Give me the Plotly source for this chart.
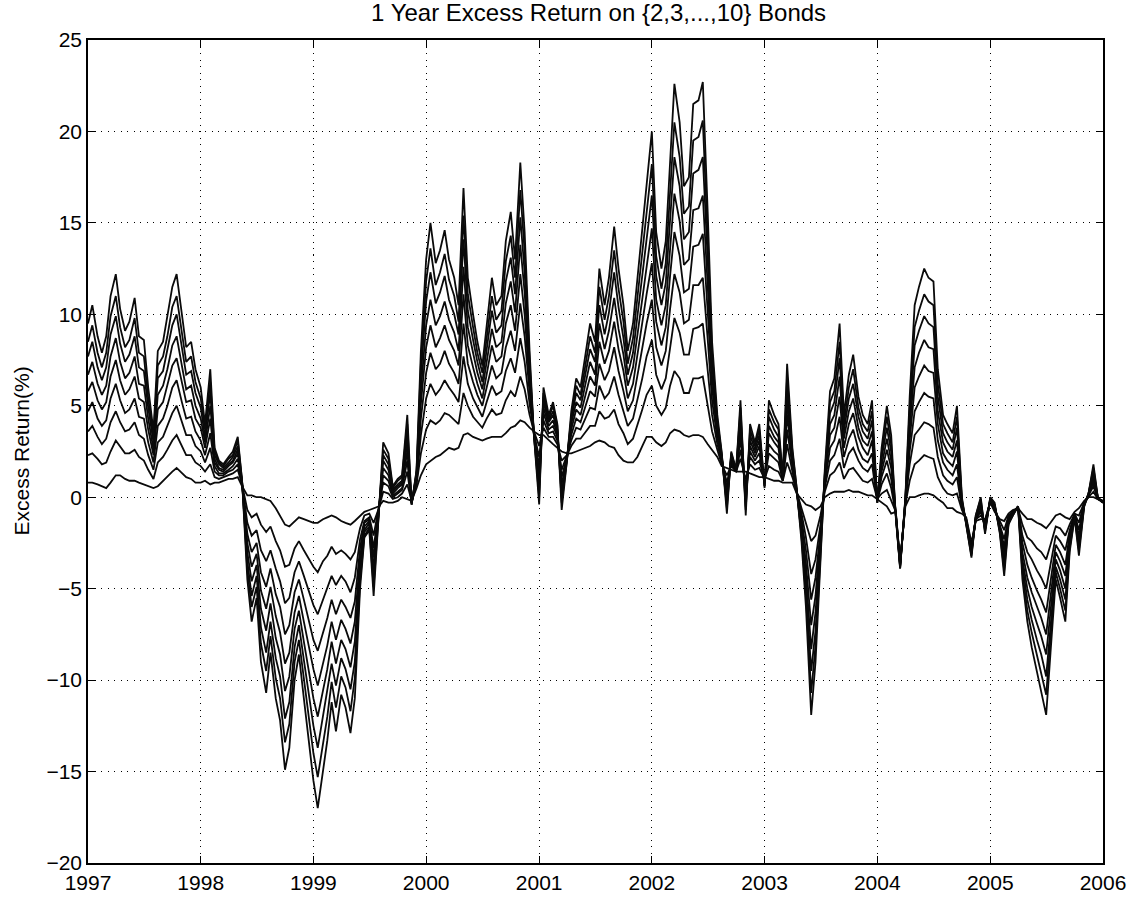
import pandas as pd
import plotly.graph_objects as go

# Semi-monthly observation dates, Jan 1997 .. Jan 2006
dates = pd.date_range("1997-01-01", "2006-01-01", freq="SMS")

# 1-year excess returns (%) on n-year bonds, one row per calendar year
y2 = [
    .8, .8, .7, .6, .5, .8, 1.2, 1.2, 1.0, .9, .9, .8, .7, .6, .5, .6, .9, 1.1, 1.4, 1.6, 1.3, 1.1, 1.0, .8,
    .8, .9, .7, .8, .8, .9, 1.0, 1.0, 1.1, .6, .1, .1, 0, 0, -.1, -.2, -.6, -1.0, -1.5, -1.6, -1.3, -1.1, -1.2, -1.3,
    -1.4, -1.4, -1.2, -1.1, -1.0, -1.1, -1.3, -1.4, -1.5, -1.3, -1.0, -.8, -.7, -.6, -.5, -.2, -.3, -.3, -.2, 0, -.1, -.2, .5, 1.2,
    1.8, 2.0, 2.2, 2.3, 2.5, 2.7, 2.6, 2.7, 3.4, 3.5, 3.3, 3.2, 3.1, 3.2, 3.3, 3.3, 3.3, 3.5, 3.8, 3.9, 4.2, 4.1, 3.8, 3.6,
    3.4, 3.4, 3.1, 2.9, 2.7, 2.5, 2.4, 2.4, 2.5, 2.6, 2.7, 2.8, 3.0, 3.1, 3.0, 2.8, 2.7, 2.3, 2.0, 1.9, 1.9, 2.2, 2.8, 3.3,
    3.3, 3.0, 2.8, 3.0, 3.5, 3.7, 3.6, 3.4, 3.3, 3.4, 3.4, 3.3, 2.9, 2.6, 2.2, 1.7, 1.6, 1.5, 1.4, 1.4, 1.4, 1.3, 1.2, 1.1,
    1.1, 1.0, .9, .9, .8, .8, .8, .2, -.1, -.4, -.5, -.7, -.5, 0, .2, .3, .3, .3, .4, .3, .3, .2, .1, .1,
    -.1, -.3, -.5, -.9, -.8, -3.5, -.5, 0, 0, .1, .2, .2, .1, -.1, -.3, -.6, -.6, -.8, -.9, -1.1, -2.5, -1.3, -1.2, -1.2,
    -.3, -.8, -1.2, -1.3, -.9, -.7, -.6, -.9, -1.2, -1.2, -1.4, -1.5, -1.7, -1.4, -1.0, -.9, -1.1, -1.2, -.8, -.6, -.2, 0, 0, -.1,
    -.2,
]
y3 = [
    2.3, 2.4, 2.1, 1.8, 1.9, 2.5, 3.1, 2.8, 2.4, 2.4, 2.6, 2.2, 2.0, 1.5, 1.0, 1.9, 2.2, 2.6, 3.1, 3.4, 2.8, 2.3, 2.3, 1.9,
    1.7, 1.4, 1.8, 1.1, 1.0, 1.1, 1.2, 1.3, 1.5, .7, -.7, -1.1, -.9, -1.5, -1.9, -1.6, -2.4, -2.9, -3.8, -3.7, -2.8, -2.4, -2.9, -3.3,
    -3.8, -4.1, -3.5, -3.2, -2.7, -3.1, -2.9, -3.1, -3.4, -3.0, -1.7, -1.0, -.9, -1.4, -.6, .3, .2, -.1, 0, .2, .7, -.2, .7, 2.4,
    3.7, 4.2, 4.0, 4.2, 4.6, 4.5, 4.2, 4.0, 5.7, 5.0, 4.4, 4.1, 3.8, 4.3, 4.8, 4.5, 4.6, 5.3, 5.8, 5.5, 6.6, 5.9, 4.5, 3.6,
    2.8, 3.8, 3.3, 3.3, 2.9, 2.0, 2.3, 2.8, 3.2, 3.2, 3.6, 3.9, 3.9, 4.7, 4.3, 4.4, 4.8, 4.0, 3.5, 2.9, 3.2, 3.9, 4.8, 5.6,
    6.1, 5.0, 4.5, 4.9, 6.1, 6.9, 6.5, 5.7, 5.7, 6.5, 6.5, 6.6, 5.0, 3.6, 2.6, 1.8, 1.2, 1.7, 1.4, 2.1, 1.0, 1.8, 1.5, 1.6,
    1.0, 1.7, 1.5, 1.4, .9, 1.9, 1.1, .3, -.5, -1.4, -2.4, -2.1, -1.0, .3, 1.2, 1.4, 1.9, 1.0, 1.5, 1.6, 1.2, .9, .8, 1.0,
    -.1, .2, .4, -.2, -.8, -3.6, -.4, .9, 1.8, 2.0, 2.3, 2.2, 2.1, 1.1, .5, .2, .1, .2, -.7, -1.2, -2.6, -1.2, -1.0, -1.3,
    -.2, -.7, -1.3, -1.8, -1.0, -.8, -.6, -1.5, -2.2, -2.4, -2.8, -3.0, -3.4, -2.6, -1.6, -1.7, -2.1, -1.5, -.9, -1.0, -.3, 0, .3, -.1,
    -.2,
]
y4 = [
    3.6, 3.9, 3.3, 2.9, 3.2, 4.1, 4.7, 4.1, 3.6, 3.7, 4.1, 3.4, 3.2, 2.3, 1.5, 3.0, 3.3, 3.9, 4.6, 5.0, 4.1, 3.4, 3.4, 2.8,
    2.5, 1.9, 2.7, 1.4, 1.2, 1.2, 1.4, 1.5, 1.8, .7, -1.4, -2.1, -1.8, -2.9, -3.5, -2.9, -3.9, -4.6, -5.8, -5.5, -4.1, -3.5, -4.3, -5.0,
    -5.9, -6.4, -5.6, -5.0, -4.3, -4.8, -4.3, -4.6, -5.2, -4.4, -2.3, -1.3, -1.1, -2.1, -.6, .8, .6, 0, .2, .4, 1.4, -.3, .8, 3.4,
    5.4, 6.2, 5.6, 5.9, 6.4, 6.0, 5.6, 5.2, 7.7, 6.2, 5.4, 4.9, 4.4, 5.2, 6.1, 5.6, 5.8, 6.9, 7.6, 6.8, 8.7, 7.4, 5.1, 3.5,
    2.2, 4.2, 3.5, 3.6, 3.1, 1.5, 2.3, 3.1, 3.8, 3.7, 4.4, 4.9, 4.8, 6.1, 5.4, 5.7, 6.6, 5.6, 4.7, 3.9, 4.3, 5.3, 6.5, 7.7,
    8.6, 6.7, 5.9, 6.5, 8.3, 9.8, 9.0, 7.8, 7.8, 9.2, 9.3, 9.5, 6.9, 4.5, 2.9, 2.0, .8, 1.8, 1.4, 2.6, .6, 2.2, 1.8, 2.0,
    .9, 2.4, 2.1, 1.9, .9, 2.9, 1.4, .3, -.9, -2.2, -4.2, -3.4, -1.5, .5, 2.0, 2.3, 3.2, 1.6, 2.4, 2.7, 2.0, 1.6, 1.4, 1.8,
    -.2, .7, 1.3, .5, -.9, -3.6, -.3, 1.8, 3.4, 3.7, 4.1, 4.0, 3.8, 2.2, 1.2, .9, .7, 1.1, -.6, -1.2, -2.8, -1.2, -.8, -1.5,
    -.2, -.6, -1.5, -2.3, -1.1, -.8, -.6, -2.1, -3.0, -3.4, -4.0, -4.4, -5.0, -3.7, -2.1, -2.4, -2.9, -1.8, -.9, -1.4, -.3, .1, .6, -.1,
    -.2,
]
y5 = [
    4.7, 5.2, 4.3, 3.9, 4.2, 5.4, 6.2, 5.3, 4.6, 4.8, 5.4, 4.4, 4.3, 3.0, 1.9, 3.9, 4.3, 5.0, 6.0, 6.4, 5.2, 4.3, 4.4, 3.6,
    3.1, 2.3, 3.5, 1.7, 1.3, 1.3, 1.5, 1.7, 2.1, .7, -2.0, -3.0, -2.5, -4.1, -4.9, -3.9, -5.3, -6.0, -7.5, -7.0, -5.2, -4.5, -5.6, -6.6,
    -7.8, -8.4, -7.4, -6.6, -5.6, -6.4, -5.6, -6.0, -6.6, -5.7, -2.8, -1.4, -1.2, -2.8, -.6, 1.2, .9, .1, .3, .5, 2.0, -.3, 1.0, 4.3,
    6.8, 7.9, 7.0, 7.3, 8.0, 7.3, 6.8, 6.2, 9.5, 7.3, 6.3, 5.6, 5.0, 6.0, 7.2, 6.5, 6.8, 8.2, 9.1, 8.0, 10.6, 8.8, 5.7, 3.5,
    1.7, 4.6, 3.7, 3.9, 3.3, 1.1, 2.2, 3.4, 4.3, 4.1, 5.1, 5.8, 5.5, 7.3, 6.4, 6.9, 8.2, 6.9, 5.8, 4.7, 5.3, 6.6, 8.1, 9.5,
    10.8, 8.2, 7.2, 8.0, 10.3, 12.2, 11.2, 9.5, 9.7, 11.6, 11.6, 12.0, 8.6, 5.3, 3.2, 2.1, .5, 2.0, 1.4, 3.2, .3, 2.5, 2.0, 2.4,
    .8, 2.9, 2.5, 2.3, .9, 3.7, 1.7, .3, -1.2, -2.9, -5.6, -4.4, -1.9, .7, 2.7, 3.1, 4.4, 2.2, 3.2, 3.7, 2.6, 2.1, 1.9, 2.4,
    -.2, 1.1, 2.0, 1.0, -.9, -3.7, -.3, 2.5, 4.7, 5.2, 5.7, 5.5, 5.4, 3.1, 1.9, 1.5, 1.2, 1.8, -.5, -1.3, -2.9, -1.2, -.7, -1.6,
    -.2, -.6, -1.6, -2.7, -1.2, -.8, -.6, -2.5, -3.7, -4.4, -5.1, -5.6, -6.3, -4.6, -2.6, -3.0, -3.7, -2.0, -.9, -1.8, -.3, .1, .8, -.1,
    -.2,
]
y6 = [
    5.8, 6.3, 5.3, 4.8, 5.2, 6.6, 7.5, 6.4, 5.6, 5.9, 6.6, 5.4, 5.2, 3.7, 2.3, 4.8, 5.2, 6.1, 7.2, 7.6, 6.3, 5.2, 5.3, 4.3,
    3.8, 2.7, 4.3, 1.9, 1.5, 1.4, 1.7, 1.9, 2.4, .8, -2.5, -3.8, -3.1, -5.1, -6.1, -4.9, -6.5, -7.4, -9.1, -8.5, -6.3, -5.4, -6.8, -8.0,
    -9.4, -10.3, -9.0, -8.1, -6.8, -7.8, -6.7, -7.2, -8.0, -6.8, -3.3, -1.6, -1.3, -3.3, -.7, 1.6, 1.2, .2, .5, .7, 2.5, -.3, 1.1, 5.1,
    8.2, 9.4, 8.2, 8.7, 9.4, 8.6, 8.0, 7.2, 11.1, 8.3, 7.1, 6.2, 5.4, 6.8, 8.3, 7.4, 7.7, 9.5, 10.5, 9.1, 12.2, 10.0, 6.2, 3.5,
    1.2, 4.9, 3.9, 4.2, 3.4, .7, 2.2, 3.7, 4.8, 4.5, 5.7, 6.6, 6.1, 8.5, 7.3, 8.0, 9.6, 8.1, 6.9, 5.4, 6.2, 7.8, 9.5, 11.1,
    12.8, 9.6, 8.3, 9.3, 12.1, 14.5, 13.2, 11.2, 11.4, 13.7, 13.8, 14.4, 10.1, 6.0, 3.5, 2.2, .2, 2.1, 1.5, 3.6, 0, 2.8, 2.2, 2.8,
    .8, 3.5, 3.0, 2.7, 1.0, 4.5, 1.9, .4, -1.5, -3.6, -7.0, -5.4, -2.2, .9, 3.4, 3.8, 5.5, 2.7, 4.0, 4.6, 3.3, 2.7, 2.3, 3.1,
    -.2, 1.4, 2.6, 1.6, -.9, -3.7, -.2, 3.1, 6.0, 6.6, 7.2, 6.9, 6.8, 4.0, 2.4, 2.0, 1.7, 2.5, -.4, -1.3, -3.0, -1.1, -.5, -1.7,
    -.1, -.5, -1.7, -3.0, -1.2, -.9, -.5, -3.0, -4.4, -5.2, -6.0, -6.6, -7.5, -5.5, -3.0, -3.5, -4.3, -2.2, -1.0, -2.1, -.4, .1, 1.0, -.1,
    -.3,
]
y7 = [
    6.7, 7.4, 6.2, 5.6, 6.1, 7.7, 8.7, 7.4, 6.5, 6.8, 7.7, 6.2, 6.1, 4.3, 2.6, 5.6, 6.1, 7.0, 8.3, 8.8, 7.2, 5.9, 6.1, 5.0,
    4.3, 3.0, 5.0, 2.1, 1.6, 1.5, 1.8, 2.0, 2.6, .8, -3.0, -4.6, -3.7, -6.1, -7.3, -5.8, -7.7, -8.6, -10.6, -9.8, -7.2, -6.2, -7.9, -9.3,
    -11.0, -12.0, -10.5, -9.4, -7.9, -9.1, -7.8, -8.3, -9.3, -7.9, -3.7, -1.8, -1.4, -3.9, -.7, 2.0, 1.5, .3, .6, .8, 3.0, -.3, 1.2, 5.8,
    9.4, 10.8, 9.4, 9.9, 10.7, 9.7, 9.0, 8.0, 12.6, 9.3, 7.9, 6.8, 5.9, 7.5, 9.2, 8.2, 8.5, 10.6, 11.8, 10.1, 13.8, 11.2, 6.7, 3.5,
    .8, 5.2, 4.1, 4.5, 3.6, .3, 2.1, 4.0, 5.2, 4.9, 6.3, 7.4, 6.7, 9.5, 8.1, 9.1, 10.9, 9.2, 7.8, 6.1, 7.1, 8.9, 10.8, 12.6,
    14.7, 10.8, 9.4, 10.5, 13.7, 16.6, 15.1, 12.7, 13.0, 15.7, 15.8, 16.5, 11.5, 6.6, 3.8, 2.2, -.1, 2.2, 1.5, 4.1, -.2, 3.1, 2.4, 3.1,
    .7, 3.9, 3.3, 3.0, 1.0, 5.2, 2.1, .4, -1.7, -4.2, -8.3, -6.3, -2.5, 1.0, 4.0, 4.5, 6.6, 3.2, 4.7, 5.4, 3.8, 3.1, 2.8, 3.6,
    -.2, 1.7, 3.2, 2.0, -1.0, -3.8, -.2, 3.7, 7.1, 7.9, 8.6, 8.2, 8.1, 4.7, 3.0, 2.5, 2.2, 3.1, -.3, -1.4, -3.0, -1.1, -.4, -1.7,
    -.1, -.5, -1.7, -3.3, -1.3, -.9, -.5, -3.4, -5.0, -6.0, -6.9, -7.6, -8.6, -6.2, -3.4, -4.0, -5.0, -2.4, -1.0, -2.4, -.4, .1, 1.2, 0,
    -.3,
]
y8 = [
    7.7, 8.5, 7.1, 6.4, 7.1, 8.9, 9.9, 8.4, 7.4, 7.8, 8.8, 7.1, 6.9, 4.9, 3.0, 6.5, 6.9, 8.0, 9.4, 10.0, 8.2, 6.7, 6.9, 5.7,
    4.9, 3.3, 5.7, 2.3, 1.8, 1.6, 1.9, 2.2, 2.8, .8, -3.5, -5.4, -4.3, -7.1, -8.5, -6.8, -8.8, -9.8, -12.1, -11.2, -8.2, -7.0, -8.9, -10.5,
    -12.5, -13.7, -12.0, -10.7, -9.1, -10.3, -8.8, -9.4, -10.5, -9.0, -4.2, -1.9, -1.6, -4.4, -.7, 2.3, 1.8, .4, .7, .9, 3.5, -.4, 1.3, 6.6,
    10.7, 12.3, 10.6, 11.2, 12.1, 10.8, 10.0, 8.9, 14.1, 10.2, 8.6, 7.4, 6.3, 8.2, 10.2, 9.0, 9.4, 11.8, 13.1, 11.1, 15.3, 12.3, 7.1, 3.4,
    .4, 5.5, 4.2, 4.7, 3.7, 0, 2.1, 4.2, 5.7, 5.3, 6.9, 8.1, 7.4, 10.5, 8.9, 10.1, 12.3, 10.4, 8.7, 6.7, 7.9, 9.9, 12.0, 14.1,
    16.5, 12.1, 10.5, 11.7, 15.4, 18.6, 17.0, 14.1, 14.5, 17.7, 17.9, 18.6, 12.9, 7.3, 4.0, 2.3, -.4, 2.3, 1.5, 4.5, -.5, 3.4, 2.6, 3.4,
    .6, 4.4, 3.7, 3.3, 1.0, 5.9, 2.3, .4, -2.0, -4.8, -9.5, -7.3, -2.9, 1.2, 4.6, 5.2, 7.6, 3.6, 5.4, 6.2, 4.4, 3.6, 3.2, 4.2,
    -.3, 2.1, 3.8, 2.5, -1.0, -3.8, -.1, 4.3, 8.3, 9.1, 9.9, 9.5, 9.3, 5.5, 3.5, 3.0, 2.6, 3.8, -.2, -1.4, -3.1, -1.1, -.3, -1.8,
    -.1, -.4, -1.8, -3.7, -1.4, -.9, -.5, -3.7, -5.6, -6.7, -7.8, -8.6, -9.8, -7.0, -3.8, -4.5, -5.6, -2.6, -1.0, -2.7, -.4, .2, 1.4, 0,
    -.3,
]
y9 = [
    8.5, 9.4, 7.9, 7.1, 7.9, 9.9, 11.0, 9.3, 8.2, 8.6, 9.8, 7.9, 7.7, 5.4, 3.3, 7.2, 7.7, 8.8, 10.4, 11.0, 9.0, 7.4, 7.7, 6.3,
    5.4, 3.7, 6.3, 2.5, 1.9, 1.7, 2.1, 2.3, 3.1, .9, -4.0, -6.0, -4.9, -8.0, -9.5, -7.6, -9.9, -11.0, -13.4, -12.4, -9.0, -7.8, -9.9, -11.7,
    -14.0, -15.3, -13.4, -12.0, -10.1, -11.5, -9.8, -10.4, -11.7, -9.9, -4.6, -2.1, -1.7, -4.9, -.8, 2.6, 2.1, .5, .9, 1.1, 4.0, -.4, 1.4, 7.3,
    11.8, 13.6, 11.6, 12.3, 13.3, 11.9, 11.0, 9.6, 15.4, 11.1, 9.3, 7.9, 6.8, 8.8, 11.0, 9.7, 10.2, 12.9, 14.3, 12.0, 16.8, 13.4, 7.5, 3.4,
    0, 5.7, 4.3, 5.0, 3.9, -.3, 2.0, 4.4, 6.1, 5.6, 7.4, 8.8, 7.9, 11.5, 9.7, 11.0, 13.5, 11.4, 9.6, 7.3, 8.7, 10.9, 13.2, 15.5,
    18.2, 13.2, 11.4, 12.8, 16.9, 20.5, 18.6, 15.5, 15.9, 19.5, 19.7, 20.6, 14.1, 7.9, 4.2, 2.4, -.6, 2.4, 1.5, 4.9, -.7, 3.7, 2.8, 3.7,
    .6, 4.8, 4.1, 3.7, 1.1, 6.6, 2.5, .5, -2.2, -5.4, -10.7, -8.1, -3.2, 1.3, 5.2, 5.8, 8.5, 4.0, 6.0, 7.0, 4.9, 4.0, 3.6, 4.7,
    -.3, 2.4, 4.4, 2.9, -1.0, -3.9, -.1, 4.9, 9.3, 10.2, 11.1, 10.7, 10.5, 6.2, 4.0, 3.5, 3.0, 4.4, -.1, -1.5, -3.2, -1.0, -.1, -1.9,
    0, -.4, -1.9, -4.0, -1.4, -1.0, -.5, -4.1, -6.2, -7.4, -8.6, -9.5, -10.8, -7.7, -4.1, -5.0, -6.2, -2.8, -1.1, -2.9, -.5, .2, 1.6, 0,
    -.3,
]
y10 = [
    9.5, 10.5, 8.8, 7.9, 8.8, 11.0, 12.2, 10.3, 9.1, 9.6, 10.9, 8.8, 8.6, 6.0, 3.6, 8.0, 8.5, 9.8, 11.5, 12.2, 10.0, 8.2, 8.5, 7.0,
    6.0, 4.0, 7.0, 2.7, 2.0, 1.8, 2.2, 2.5, 3.3, .9, -4.5, -6.8, -5.5, -9.0, -10.7, -8.5, -11.0, -12.2, -14.9, -13.7, -10.0, -8.6, -11.0, -13.0,
    -15.5, -17.0, -14.9, -13.3, -11.2, -12.8, -10.8, -11.5, -12.9, -11.0, -5.0, -2.2, -1.8, -5.4, -.8, 3.0, 2.4, .6, 1.0, 1.2, 4.5, -.4, 1.5, 8.0,
    13.0, 15.0, 12.8, 13.5, 14.6, 13.0, 12.0, 10.5, 16.9, 12.0, 10.0, 8.5, 7.2, 9.5, 12.0, 10.5, 11.0, 14.0, 15.6, 13.0, 18.3, 14.5, 8.0, 3.4,
    -.4, 6.0, 4.5, 5.2, 4.0, -.7, 2.0, 4.7, 6.5, 6.0, 8.0, 9.5, 8.5, 12.5, 10.5, 12.0, 14.8, 12.5, 10.5, 8.0, 9.5, 12.0, 14.5, 17.0,
    20.0, 14.5, 12.5, 14.0, 18.5, 22.6, 20.5, 17.0, 17.5, 21.5, 21.7, 22.7, 15.5, 8.5, 4.5, 2.5, -.9, 2.5, 1.5, 5.3, -1.0, 4.0, 3.0, 4.0,
    .5, 5.3, 4.5, 4.0, 1.1, 7.3, 2.7, .5, -2.5, -6.0, -11.9, -9.0, -3.5, 1.5, 5.8, 6.5, 9.5, 4.5, 6.7, 7.8, 5.5, 4.5, 4.0, 5.3,
    -.3, 2.7, 5.0, 3.4, -1.1, -3.9, 0, 5.5, 10.5, 11.5, 12.5, 12.0, 11.8, 7.0, 4.5, 4.0, 3.5, 5.0, 0, -1.5, -3.3, -1.0, 0, -2.0,
    0, -.3, -2.0, -4.3, -1.5, -1.0, -.5, -4.5, -6.8, -8.2, -9.5, -10.5, -11.9, -8.5, -4.5, -5.5, -6.8, -3.0, -1.1, -3.2, -.5, .2, 1.8, 0,
    -.3,
]

maturities = [2, 3, 4, 5, 6, 7, 8, 9, 10]
returns = [y2, y3, y4, y5, y6, y7, y8, y9, y10]
year_ticks = [str(y) for y in range(1997, 2007)]

FONT = "Liberation Sans, Arial, Helvetica, sans-serif"

fig = go.Figure()
for n, vals in zip(maturities, returns):
    fig.add_trace(go.Scatter(
        x=dates[:len(vals)], y=vals, mode="lines", name=f"{n}-year bond",
        line=dict(color="#0a0a0a", width=1.8), showlegend=False,
    ))

axis_common = dict(
    showline=True, linecolor="black", linewidth=1.6, mirror="allticks",
    ticks="inside", ticklen=7, tickwidth=1.4, tickcolor="black",
    showgrid=True, gridcolor="black", gridwidth=1, griddash="1.3px,5.2px",
    zeroline=False, tickfont=dict(family=FONT, size=21, color="black"),
)

fig.update_layout(
    width=1138, height=906,
    margin=dict(l=88, r=33, t=40, b=38),
    paper_bgcolor="white", plot_bgcolor="white",
    title=dict(text="1 Year Excess Return on {2,3,...,10} Bonds",
               font=dict(family=FONT, size=24, color="black"),
               x=0.526, xanchor="center", y=1 - 13 / 906, yanchor="middle"),
    xaxis=dict(type="date", range=["1997-01-01", "2006-01-01"],
               tickvals=[f"{y}-01-01" for y in year_ticks], ticktext=year_ticks,
               **axis_common),
    yaxis=dict(range=[-20, 25], tickvals=list(range(-20, 30, 5)), **axis_common),
    annotations=[dict(text="Excess Return(%)", textangle=-90, showarrow=False,
                      xref="paper", yref="paper", x=-0.066, y=0.5,
                      xanchor="center", yanchor="middle",
                      font=dict(family=FONT, size=21, color="black"))],
)

fig.write_html("out.html")
